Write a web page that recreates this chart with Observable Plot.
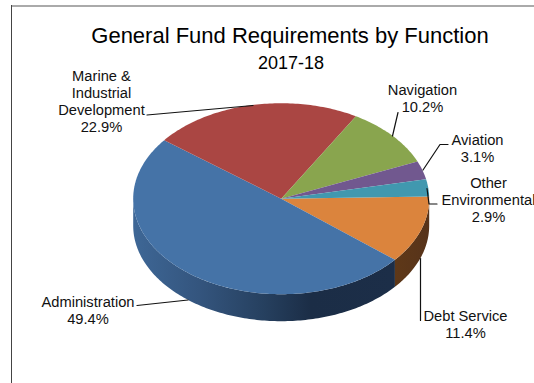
<!DOCTYPE html>
<html>
<head>
<meta charset="utf-8">
<style>
  html, body { margin: 0; padding: 0; background: #fff; }
  svg { display: block; }
</style>
<script src="https://cdn.jsdelivr.net/npm/d3@7"></script>
<script src="https://cdn.jsdelivr.net/npm/@observablehq/plot@0.6"></script>
</head>
<body>
<div id="chart"></div>
<script>
// Budget shares, clockwise from the three o'clock position
const categories = ["Debt Service", "Administration", "Marine & Industrial Development", "Navigation", "Aviation", "Other Environmental"];
const shares = [11.4, 49.4, 22.9, 10.2, 3.1, 2.9];
const labelNames = ["Debt Service", "Administration", "Marine &\nIndustrial\nDevelopment", "Navigation", "Aviation", "Other\nEnvironmental"];
const topColors = ["#db843d", "#4573a7", "#aa4643", "#89a54e", "#71588f", "#4198af"];

const chartTitle = "General Fund Requirements by Function";
const chartSubtitle = "2017-18";

// Placement of each label and the elbow of its leader line
const labelX = [465, 87.5, 101, 422, 477, 488];
const labelY = [324, 309.5, 101, 98, 148, 199.5];
const leaders = [
  [[420, 258], [420, 320]],
  [[136.5, 305], [187.5, 299.5]],
  [[146.5, 114.5], [252.5, 105]],
  [[397.5, 112], [392, 135.5]],
  [[447.5, 144], [439.5, 144], [422.5, 169.5]],
  [[436.5, 203.5], [428.5, 203.5], [426.5, 188]]
];

// Ellipse of the tilted pie
const cx = 280.7, cy = 198.2, rx = 148, ry = 95.5, depth = 27;
const startAngle = 88.7;

const total = d3.sum(shares);
const cumulative = d3.cumsum(shares);
const sliceAngles = shares.map((s, i) => {
  const end = startAngle + cumulative[i] / total * 360;
  return {name: categories[i], from: end - s / total * 360, to: end};
});

const rim = (deg, dy = 0) => {
  const t = deg * Math.PI / 180;
  return {x: cx + rx * Math.sin(t), y: cy - ry * Math.cos(t) + dy};
};
const arc = (a, b, dy = 0) =>
  d3.range(0, 1.0001, 1 / Math.max(2, Math.ceil(Math.abs(b - a)))).map((k) => rim(a + (b - a) * k, dy));

const topSlices = sliceAngles.flatMap((s) =>
  [{x: cx, y: cy}, ...arc(s.from, s.to)].map((p) => ({...p, name: s.name})));

// Side wall: only the part of a slice on the near half of the ellipse shows
const wall = (s) => {
  const a = Math.max(s.from, 90), b = Math.min(s.to, 270);
  return [...arc(a, b), ...arc(b, a, depth)];
};

const leaderRows = leaders.flatMap((pts, i) => pts.map(([x, y]) => ({x, y, name: categories[i]})));
const labelRows = categories.map((c, i) => ({
  text: `${labelNames[i]}\n${shares[i].toFixed(1)}%`, x: labelX[i], y: labelY[i]
}));

const gradients = () => {
  const svgNS = "http://www.w3.org/2000/svg";
  const defs = document.createElementNS(svgNS, "defs");
  const add = (id, stops) => {
    const g = document.createElementNS(svgNS, "linearGradient");
    g.setAttribute("id", id);
    stops.forEach(([o, c]) => {
      const s = document.createElementNS(svgNS, "stop");
      s.setAttribute("offset", o);
      s.setAttribute("stop-color", c);
      g.appendChild(s);
    });
    defs.appendChild(g);
  };
  add("wall-admin", [[0, "#3e6796"], [0.25, "#34557e"], [0.5, "#26405f"], [0.68, "#1b2d46"], [1, "#1c2e48"]]);
  add("wall-debt", [[0, "#5e3818"], [1, "#57331a"]]);
  return defs;
};

const fontFamily = "'Liberation Sans', Arial, sans-serif";

const chart = Plot.plot({
  width: 534,
  height: 383,
  margin: 0,
  x: {domain: [0, 534], range: [0, 534], axis: null},
  y: {domain: [0, 383], range: [0, 383], axis: null},
  color: {domain: categories, range: topColors},
  style: {fontFamily, background: "#fff", color: "#000"},
  marks: [
    gradients,
    // Frame of the surrounding chart area
    Plot.ruleY([5.5], {x1: 11, x2: 534, stroke: "#aaa", strokeWidth: 2}),
    Plot.ruleX([11], {y1: 5, y2: 383, stroke: "#444", strokeWidth: 1}),
    // Pie walls, then the top face
    Plot.line(wall(sliceAngles[1]), {x: "x", y: "y", fill: "url(#wall-admin)", stroke: "none"}),
    Plot.line(wall(sliceAngles[0]), {x: "x", y: "y", fill: "url(#wall-debt)", stroke: "none"}),
    Plot.line(topSlices, {x: "x", y: "y", z: "name", fill: "name", stroke: "none"}),
    // Leader lines
    Plot.line(leaderRows, {x: "x", y: "y", z: "name", stroke: "#111", strokeWidth: 1.2, curve: "linear"}),
    // Titles
    Plot.text([chartTitle], {x: () => 289.5, y: () => 35.5, text: (d) => d, fontSize: 22, fill: "#000"}),
    Plot.text([chartSubtitle], {x: () => 290.5, y: () => 62.5, text: (d) => d, fontSize: 18, fill: "#000"}),
    // Slice labels
    Plot.text(labelRows, {x: "x", y: "y", text: "text", fontSize: 14.7, lineHeight: 1.157, fill: "#111"})
  ]
});

document.getElementById("chart").appendChild(chart);
</script>
</body>
</html>
